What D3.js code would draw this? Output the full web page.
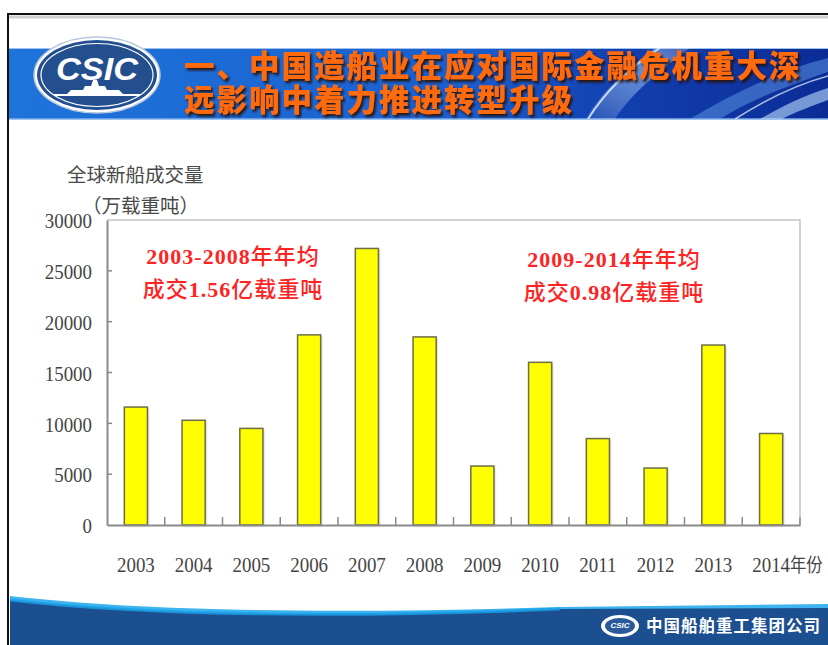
<!DOCTYPE html>
<html>
<head>
<meta charset="utf-8">
<script src="https://cdn.jsdelivr.net/npm/d3@7/dist/d3.min.js"></script>
<style>
  html, body { margin: 0; padding: 0; background: #ffffff; }
  svg { display: block; }
</style>
</head>
<body>
<svg id="chart" width="828" height="645"></svg>
<script>
// ---- data ----
const years = ["2003","2004","2005","2006","2007","2008","2009","2010","2011","2012","2013","2014"];
const volumes = [11600, 10300, 9500, 18700, 27200, 18500, 5800, 16000, 8500, 5600, 17700, 9000];
const yTickValues = [0, 5000, 10000, 15000, 20000, 25000, 30000];
const xUnit = "年份";
const axisTitleLines = ["全球新船成交量", "（万载重吨）"];
const noteLeft = ["2003-2008年年均", "成交1.56亿载重吨"];
const noteRight = ["2009-2014年年均", "成交0.98亿载重吨"];
const titleLines = ["一、中国造船业在应对国际金融危机重大深", "远影响中着力推进转型升级"];
const footerText = "中国船舶重工集团公司";
const logoText = "CSIC";

const svg = d3.select("#chart");
const defs = svg.append("defs");

// ---- slide frame ----
svg.append("line").attr("x1", 8).attr("x2", 828).attr("y1", 17).attr("y2", 17)
  .attr("stroke", "#cfcfcf").attr("stroke-width", 3);
svg.append("line").attr("x1", 8).attr("x2", 828).attr("y1", 14).attr("y2", 14)
  .attr("stroke", "#111").attr("stroke-width", 2);
svg.append("line").attr("x1", 8).attr("x2", 8).attr("y1", 13).attr("y2", 645)
  .attr("stroke", "#111").attr("stroke-width", 2);

// ---- header band ----
const hg = defs.append("linearGradient").attr("id", "hg").attr("x1", 0).attr("x2", 1).attr("y1", 0).attr("y2", 0);
hg.append("stop").attr("offset", "0").attr("stop-color", "#1e74da");
hg.append("stop").attr("offset", "0.55").attr("stop-color", "#1a5fcf");
hg.append("stop").attr("offset", "0.75").attr("stop-color", "#123fae");
hg.append("stop").attr("offset", "1").attr("stop-color", "#0b2c96");
svg.append("rect").attr("x", 9).attr("y", 48).attr("width", 819).attr("height", 71).attr("fill", "url(#hg)");
svg.append("line").attr("x1", 9).attr("x2", 828).attr("y1", 48.5).attr("y2", 48.5).attr("stroke", "#9fc3ee").attr("stroke-width", 1);
svg.append("line").attr("x1", 9).attr("x2", 828).attr("y1", 119).attr("y2", 119).attr("stroke", "#7fb0ea").attr("stroke-width", 1.5);

// streaks on right
const sg = defs.append("linearGradient").attr("id", "sg").attr("x1", 0).attr("x2", 1).attr("y1", 1).attr("y2", 0);
sg.append("stop").attr("offset", "0").attr("stop-color", "#ffffff").attr("stop-opacity", 0.05);
sg.append("stop").attr("offset", "0.6").attr("stop-color", "#9fd0ff").attr("stop-opacity", 0.55);
sg.append("stop").attr("offset", "1").attr("stop-color", "#ffffff").attr("stop-opacity", 0.2);
svg.append("path").attr("d", "M585,119 C600,95 625,70 655,48 L690,48 C660,70 630,95 615,119 Z").attr("fill", "url(#sg)");
svg.append("path").attr("d", "M588,119 C603,95 628,68 660,48").attr("fill", "none").attr("stroke", "#d8ecff").attr("stroke-width", 2).attr("opacity", 0.85);
svg.append("path").attr("d", "M690,119 C730,95 780,70 828,58 L828,72 C790,85 750,100 720,119 Z").attr("fill", "#6aa6f0").attr("opacity", 0.45);
svg.append("path").attr("d", "M760,119 C785,105 805,95 828,88 L828,100 C812,106 795,112 782,119 Z").attr("fill", "#bfe0ff").attr("opacity", 0.6);
svg.append("path").attr("d", "M735,119 C765,100 795,85 828,76").attr("fill", "none").attr("stroke", "#e6f3ff").attr("stroke-width", 1.5).attr("opacity", 0.7);

// logo
const logo = svg.append("g").attr("transform", "translate(97,75)");
logo.append("ellipse").attr("rx", 63).attr("ry", 38).attr("fill", "#ffffff").attr("stroke", "#b8c8dc").attr("stroke-width", 1.5);
logo.append("ellipse").attr("rx", 60).attr("ry", 35).attr("fill", "#234f8f");
logo.append("ellipse").attr("rx", 56).attr("ry", 31.5).attr("fill", "none").attr("stroke", "#ffffff").attr("stroke-width", 1.2);
logo.append("text").attr("x", 0).attr("y", 5).attr("text-anchor", "middle")
  .attr("font-family", "Liberation Sans, Arial, sans-serif").attr("font-weight", "bold").attr("font-style", "italic")
  .attr("font-size", 31).attr("fill", "#ffffff").attr("textLength", 82).attr("lengthAdjust", "spacingAndGlyphs").text(logoText);
logo.append("path").attr("d", "M-44,19 L-30,19 L-26,15 L-14,15 L-12,11 L-6,11 L-4,5 L0,5 L2,11 L8,11 L10,15 L22,15 L26,19 L44,19 L42,21 L-42,21 Z")
  .attr("fill", "#ffffff");

// title with drop shadow (one text element, two lines)
const ds = defs.append("filter").attr("id", "tshadow").attr("x", "-5%").attr("y", "-20%").attr("width", "110%").attr("height", "150%");
ds.append("feDropShadow").attr("dx", 2).attr("dy", 2.5).attr("stdDeviation", 0.8)
  .attr("flood-color", "#2a1000").attr("flood-opacity", 0.9);
const title = svg.append("text")
  .attr("font-family", "Noto Sans CJK SC, sans-serif").attr("font-weight", 900).attr("font-size", 30.5)
  .attr("letter-spacing", 2).attr("fill", "#ff6a10").attr("filter", "url(#tshadow)");
titleLines.forEach((t, i) => {
  title.append("tspan").attr("x", 184).attr("y", 77 + i * 34).text(t);
});

// ---- footer ----
svg.append("path").attr("d", "M10,596 C150,612 350,614 560,607 L828,604 L828,610 L560,612 C350,619 150,616 10,602 Z")
  .attr("fill", "#3db3f0");
svg.append("path").attr("d", "M10,600 C150,616 350,618 560,609 L828,608 L828,645 L10,645 Z")
  .attr("fill", "#1c4f8f");
svg.append("path").attr("d", "M10,600 C150,616 350,618 560,609").attr("fill", "none").attr("stroke", "#1aa0e8").attr("stroke-width", 3).attr("opacity", 0.8);
const flogo = svg.append("g").attr("transform", "translate(620,626)");
flogo.append("ellipse").attr("rx", 19).attr("ry", 11).attr("fill", "#ffffff");
flogo.append("ellipse").attr("rx", 15).attr("ry", 8).attr("fill", "#2a5a9a");
flogo.append("text").attr("y", 2).attr("text-anchor", "middle").attr("font-family", "Liberation Sans, sans-serif")
  .attr("font-weight", "bold").attr("font-style", "italic").attr("font-size", 8).attr("fill", "#ffffff").text(logoText);
svg.append("text").attr("x", 646).attr("y", 632)
  .attr("font-family", "Noto Sans CJK SC, sans-serif").attr("font-weight", "bold").attr("font-size", 16.5)
  .attr("letter-spacing", 1).attr("fill", "#ffffff").text(footerText);

// ---- chart ----
const pLeft = 107, pRight = 800, pTop = 220, pBottom = 525;
const x = d3.scaleBand().domain(years).range([pLeft, pRight]).paddingInner(0.6).paddingOuter(0.3);
const y = d3.scaleLinear().domain([0, 30000]).range([pBottom, pTop]);

// plot box top/right
svg.append("path").attr("d", `M${pLeft},${pTop} L${pRight},${pTop} L${pRight},${pBottom}`)
  .attr("fill", "none").attr("stroke", "#c4c4c4").attr("stroke-width", 1.5);

// bars
const shadow = defs.append("filter").attr("id", "blur").attr("x", "-20%").attr("y", "-20%").attr("width", "140%").attr("height", "140%");
shadow.append("feGaussianBlur").attr("stdDeviation", 1.2);
svg.append("g").selectAll("rect").data(years).join("rect")
  .attr("x", d => x(d) + 1).attr("y", (d, i) => y(volumes[i]) + 1)
  .attr("width", x.bandwidth()).attr("height", (d, i) => pBottom - y(volumes[i]))
  .attr("fill", "#9a9a9a").attr("opacity", 0.6).attr("filter", "url(#blur)");
svg.append("g").selectAll("rect").data(years).join("rect")
  .attr("x", d => x(d)).attr("y", (d, i) => y(volumes[i]))
  .attr("width", x.bandwidth()).attr("height", (d, i) => pBottom - y(volumes[i]))
  .attr("fill", "#ffff00").attr("stroke", "#6e6e46").attr("stroke-width", 1.5);

// y axis
const yAxis = d3.axisLeft(y).tickValues(yTickValues).tickSize(0).tickPadding(15).tickFormat(d3.format("d"));
const yg = svg.append("g").attr("transform", `translate(${pLeft},0)`).call(yAxis);
yg.select(".domain").attr("stroke", "#8a8a8a").attr("stroke-width", 2);
yg.selectAll("text").attr("font-family", "Liberation Serif, Times New Roman, serif").attr("font-size", 22)
  .attr("fill", "#444").attr("transform", "scale(0.86,1)").attr("x", -15 / 0.86).attr("dy", "0.35em");
svg.append("g").selectAll("line").data(yTickValues.filter(v => v > 0 && v < 30000)).join("line")
  .attr("x1", pLeft).attr("x2", pLeft + 5).attr("y1", d => y(d)).attr("y2", d => y(d))
  .attr("stroke", "#8a8a8a").attr("stroke-width", 1.5);

// x axis
const xAxis = d3.axisBottom(x).tickSize(0).tickPadding(31);
const xg = svg.append("g").attr("transform", `translate(0,${pBottom})`).call(xAxis);
xg.select(".domain").attr("stroke", "#8a8a8a").attr("stroke-width", 2);
xg.selectAll("text").attr("font-family", "Liberation Serif, Times New Roman, serif").attr("font-size", 22)
  .attr("fill", "#444").attr("transform", "scale(0.86,1)").attr("dy", "0.71em");
xg.selectAll(".tick text").attr("x", 0);
// last label gets the unit suffix
const lastText = xg.selectAll(".tick text").filter(d => d === years[years.length - 1]);
const w = lastText.node().getComputedTextLength();
lastText.attr("text-anchor", "start").attr("x", -w / 2).append("tspan")
  .attr("font-family", "Noto Sans CJK SC, sans-serif").attr("font-size", 19).text(xUnit);
// category boundary ticks
const step = x.step();
svg.append("g").selectAll("line").data(d3.range(1, years.length + 1)).join("line")
  .attr("x1", i => pLeft + i * step).attr("x2", i => pLeft + i * step)
  .attr("y1", pBottom).attr("y2", pBottom - 8)
  .attr("stroke", "#8a8a8a").attr("stroke-width", 1.5);

// axis title
axisTitleLines.forEach((t, i) => {
  svg.append("text").attr("x", i === 0 ? 67 : 82).attr("y", 182 + i * 31)
    .attr("font-family", "Noto Sans CJK SC, sans-serif").attr("font-size", 19.5)
    .attr("fill", "#4a4a4a").text(t);
});

// annotations: ASCII runs in bold serif, CJK runs in medium sans
function note(lines, cx, y0) {
  lines.forEach((t, i) => {
    const txt = svg.append("text").attr("x", cx).attr("y", y0 + i * 33).attr("text-anchor", "middle")
      .attr("font-size", 22).attr("letter-spacing", 1).attr("fill", "#ff2424");
    (t.match(/[\x00-\x7f]+|[^\x00-\x7f]+/g) || []).forEach(run => {
      const ascii = /^[\x00-\x7f]/.test(run);
      txt.append("tspan")
        .attr("font-family", ascii ? "Liberation Serif, serif" : "Noto Sans CJK SC, sans-serif")
        .attr("font-weight", ascii ? "bold" : 500)
        .text(run);
    });
  });
}
note(noteLeft, 233, 264);
note(noteRight, 614, 267);
</script>
</body>
</html>
